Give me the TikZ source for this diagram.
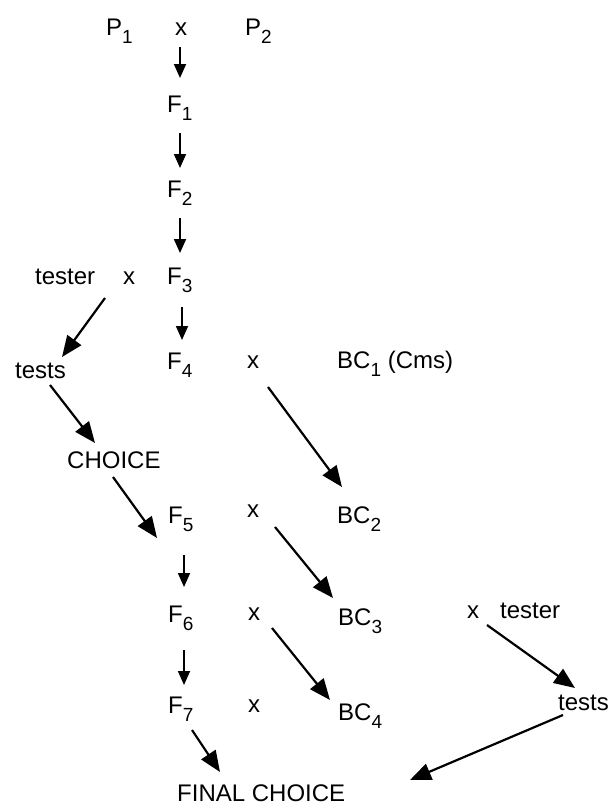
\documentclass[tikz,border=0pt]{standalone}
\usepackage{fontspec}
\setmainfont{Liberation Sans}
\usetikzlibrary{arrows.meta,calc}
% lowered index digit, as in F_1
\newcommand\lowsub[1]{\raisebox{-8.5pt}{\fontsize{19}{19}\selectfont #1}}
\begin{document}
\begin{tikzpicture}[x=1pt,y=-1pt,
  lbl/.style={anchor=base west,inner sep=0pt,font=\fontsize{24}{28}\selectfont},
  vstep/.style={line width=1.8pt,-{Triangle[length=14pt,width=12pt]}},
  dstep/.style={line width=2.2pt,-{Triangle[length=21pt,width=17pt]}}]
\useasboundingbox (0,0) rectangle (613,809);
% labels
\node[lbl] (P1) at (106,35) {P\lowsub{1}};
\node[lbl] (xtop) at (175,35) {x};
\node[lbl] (P2) at (245,35) {P\lowsub{2}};
\node[lbl] (F1) at (167,112) {F\lowsub{1}};
\node[lbl] (F2) at (167,197) {F\lowsub{2}};
\node[lbl] (F3) at (167,284) {F\lowsub{3}};
\node[lbl] (testerA) at (35,284) {tester};
\node[lbl] (xtA) at (123,284) {x};
\node[lbl] (F4) at (167,369) {F\lowsub{4}};
\node[lbl] (testsA) at (15,378) {tests};
\node[lbl] (x4) at (247,368) {x};
\node[lbl] (BC1) at (337,368) {BC\lowsub{1} (Cms)};
\node[lbl] (choice) at (67,468) {CHOICE};
\node[lbl] (F5) at (168,523) {F\lowsub{5}};
\node[lbl] (x5) at (247,517) {x};
\node[lbl] (BC2) at (337,523) {BC\lowsub{2}};
\node[lbl] (F6) at (168,622) {F\lowsub{6}};
\node[lbl] (x6) at (248,620) {x};
\node[lbl] (BC3) at (338,625) {BC\lowsub{3}};
\node[lbl] (xtB) at (467,618) {x};
\node[lbl] (testerB) at (500,618) {tester};
\node[lbl] (F7) at (168,713) {F\lowsub{7}};
\node[lbl] (x7) at (248,712) {x};
\node[lbl] (BC4) at (338,720) {BC\lowsub{4}};
\node[lbl] (testsB) at (558,710) {tests};
\node[lbl] (final) at (177,801) {FINAL CHOICE};
% main line of generations
\draw[vstep] ($(xtop.base west)+(5,12)$) -- ($(F1.base west)+(13,-34)$);
\draw[vstep] ($(F1.base west)+(13,21)$) -- ($(F2.base west)+(13,-29)$);
\draw[vstep] ($(F2.base west)+(13,21)$) -- ($(F3.base west)+(13,-31)$);
\draw[vstep] ($(F3.base west)+(15,23)$) -- ($(F4.base west)+(15,-29)$);
\draw[vstep] ($(F5.base west)+(16,32)$) -- ($(F6.base west)+(16,-35)$);
\draw[vstep] ($(F6.base west)+(16,28)$) -- ($(F7.base west)+(16,-28)$);
% testcross branch and choice
\draw[dstep] ($(xtA.base west)+(-18,14)$) -- ($(testsA.base west)+(47,-21)$);
\draw[dstep] ($(testsA.base west)+(35,7)$) -- ($(choice.base west)+(28,-25)$);
\draw[dstep] ($(choice.base west)+(46,9)$) -- ($(F5.base west)+(-11,15)$);
% backcrosses
\draw[dstep] ($(x4.base west)+(21,19)$) -- ($(BC2.base west)+(5,-36)$);
\draw[dstep] ($(x5.base west)+(28,10)$) -- ($(BC3.base west)+(-5,-27)$);
\draw[dstep] ($(x6.base west)+(24,8)$) -- ($(BC4.base west)+(-8,-20)$);
% final choice
\draw[dstep] ($(F7.base west)+(24,17)$) -- ($(final.base west)+(43,-29)$);
\draw[dstep] ($(xtB.base west)+(20,7)$) -- ($(testsB.base west)+(17,-22)$);
\draw[dstep] ($(testsB.base west)+(5,5)$) -- ($(final.base west)+(233,-21)$);
\end{tikzpicture}
\end{document}
